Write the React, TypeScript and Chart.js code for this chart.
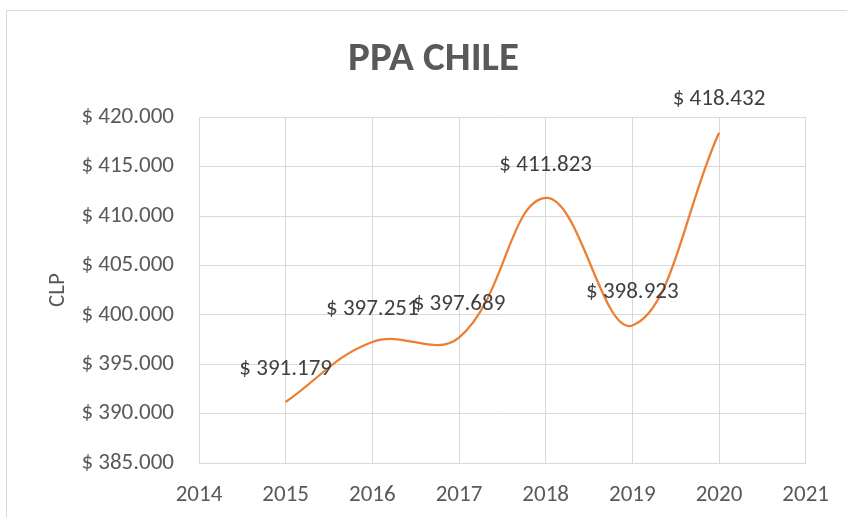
import React, { useEffect, useRef } from "react";
import { Chart, registerables } from "chart.js";

Chart.register(...registerables);

const years = [2015, 2016, 2017, 2018, 2019, 2020];
const ppaValues = [391179, 397251, 397689, 411823, 398923, 418432];
const xMin = 2014;
const xMax = 2021;
const yMin = 385000;
const yMax = 420000;
const yStep = 5000;
const chartTitle = "PPA CHILE";
const yAxisTitle = "CLP";

const FONT = "Carlito, Lato, sans-serif";
const TEXT = "#595959";
const LABEL = "#404040";
const GRID = "#d9d9d9";
const LINE = "#ed7d31";

function fmtMoney(v: number): string {
  const thousands = Math.floor(v / 1000);
  const rest = Math.round(v % 1000);
  return "$ " + thousands + "." + String(rest).padStart(3, "0");
}

const frame = {
  id: "frame",
  beforeDraw(chart: any) {
    const ctx = chart.ctx;
    ctx.save();
    ctx.fillStyle = "#ffffff";
    ctx.fillRect(0, 0, chart.width, chart.height);
    ctx.strokeStyle = GRID;
    ctx.lineWidth = 1;
    ctx.strokeRect(6.5, 10.5, chart.width + 20, chart.height + 20);
    ctx.restore();
  },
};

const dataLabels = {
  id: "dataLabels",
  afterDatasetsDraw(chart: any) {
    const ctx = chart.ctx;
    const meta = chart.getDatasetMeta(0);
    ctx.save();
    ctx.font = "23px " + FONT;
    ctx.fillStyle = LABEL;
    ctx.textAlign = "center";
    ctx.textBaseline = "middle";
    meta.data.forEach((pt: any, i: number) => {
      ctx.fillText(fmtMoney(ppaValues[i]), pt.x, pt.y - 33);
    });
    ctx.restore();
  },
};

export default function App() {
  const ref = useRef<HTMLCanvasElement | null>(null);
  useEffect(() => {
    if (!ref.current) return;
    const chart = new Chart(ref.current, {
      type: "line",
      data: {
        datasets: [
          {
            label: chartTitle,
            data: years.map((y, i) => ({ x: y, y: ppaValues[i] })),
            borderColor: LINE,
            borderWidth: 2.25,
            pointRadius: 0,
            tension: 0.4,
            fill: false,
            yAxisID: "y",
          },
        ],
      },
      options: {
        responsive: false,
        animation: false,
        layout: { padding: { left: 20, right: 0, top: 0, bottom: 0 } },
        plugins: {
          legend: { display: false },
          tooltip: { enabled: false },
          title: {
            display: true,
            text: chartTitle,
            color: TEXT,
            font: { family: FONT, size: 41, weight: "bold" },
            padding: { top: 35, bottom: 33 },
          },
        },
        scales: {
          x: {
            type: "linear",
            min: xMin,
            max: xMax,
            afterFit(scale: any) {
              scale.height = 55;
            },
            ticks: {
              stepSize: 1,
              color: TEXT,
              padding: 18,
              font: { family: FONT, size: 23 },
              callback: (v: any) => String(v),
            },
            grid: { color: GRID, drawTicks: false, lineWidth: 1 },
            border: { color: GRID },
          },
          y: {
            min: yMin,
            max: yMax,
            afterFit(scale: any) {
              scale.width = 179;
            },
            ticks: {
              stepSize: yStep,
              color: TEXT,
              padding: 25,
              font: { family: FONT, size: 23 },
              callback: (v: any) => fmtMoney(Number(v)),
            },
            grid: { color: GRID, drawTicks: false, lineWidth: 1 },
            border: { color: GRID },
            title: {
              display: true,
              text: yAxisTitle,
              color: TEXT,
              font: { family: FONT, size: 23 },
              padding: { top: 24, bottom: 0 },
            },
          },
          yRight: {
            type: "linear",
            position: "right",
            min: yMin,
            max: yMax,
            afterFit(scale: any) {
              scale.width = 41;
            },
            ticks: { display: false },
            grid: { display: false, drawTicks: false },
            border: { display: false },
          },
        },
      },
      plugins: [frame, dataLabels],
    });
    return () => chart.destroy();
  }, []);
  return (
    <div style={{ position: "fixed", left: 0, top: 0 }}>
      <canvas ref={ref} width={847} height={518} />
    </div>
  );
}
